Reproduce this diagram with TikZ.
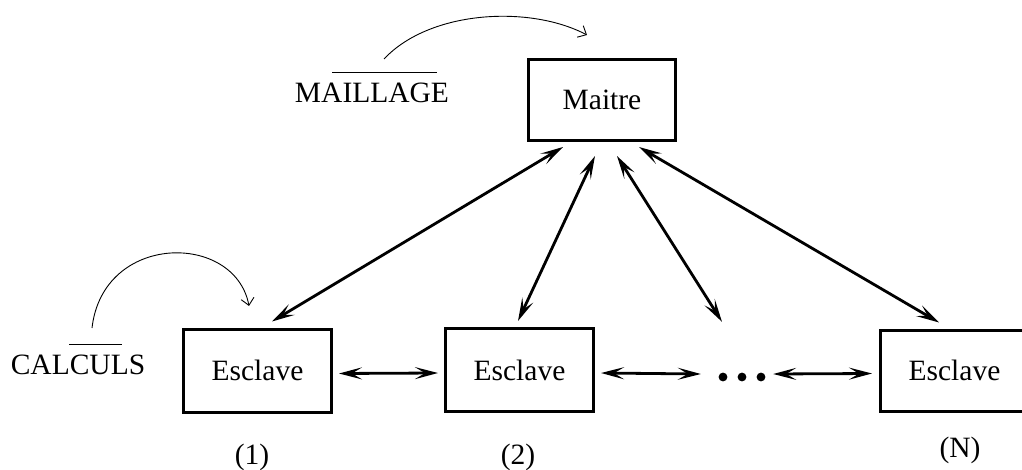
\documentclass[tikz,border=0pt]{standalone}
\usepackage{fontspec}
\setmainfont{Liberation Serif}
\usetikzlibrary{arrows.meta}
\begin{document}
\begin{tikzpicture}[x=1pt,y=-1pt,
  font=\fontsize{29.5}{34}\selectfont,
  boxnode/.style={draw,line width=3pt,minimum width=148pt,minimum height=82pt,inner sep=0pt},
  txt/.style={inner sep=0pt},
  link/.style={line width=2.8pt,{Stealth[length=23pt,width=12pt,inset=10pt]}-{Stealth[length=23pt,width=12pt,inset=10pt]}},
  curvearrow/.style={line width=0.9pt,-{Straight Barb[length=7pt,width=13pt]}}]
\useasboundingbox (0,0) rectangle (1022,470);
% boxes
\node[boxnode,minimum width=147pt,minimum height=81pt] (m) at (602,100) {Maitre};
\node[boxnode,minimum height=83pt] (e1) at (257.5,370.5) {Esclave};
\node[boxnode,minimum height=83pt] (e2) at (519.5,370) {Esclave};
\node[boxnode,minimum height=81pt] (en) at (954.5,370.5) {Esclave};
\node[minimum width=52pt,minimum height=10pt,inner sep=0pt] (dots) at (742,377) {};
\foreach \dx in {-19,0,19} \fill ([xshift=\dx pt]dots.center) circle (4.4pt);
% labels
\node[txt,anchor=base] (lm) at (372,103) {MAILLAGE};
\node[txt,anchor=base] (lc) at (78,374) {CALCULS};
\node[txt] (l1) at (252,457) {(1)};
\node[txt] (l2) at (518,457) {(2)};
\node[txt] (ln) at (960,450) {(N)};
% overlines
\draw[line width=1pt] (332,73) -- (437,73);
\draw[line width=1pt] (69,344) -- (122,344);
% horizontal links
\draw[link] ([xshift=6pt,yshift=-3pt]e1.east) -- ([xshift=-6pt,yshift=-3pt]e2.west);
\draw[link] ([xshift=6pt,yshift=-3pt]e2.east) -- ([xshift=-15pt,yshift=3pt]dots.west);
\draw[link] ([xshift=5pt,yshift=3pt]dots.east) -- ([xshift=-7pt,yshift=-3pt]en.west);
% diagonal links
\draw[link] ([xshift=-39pt,yshift=-5pt]m.south) -- ([xshift=14.5pt,yshift=6pt]e1.north);
\draw[link] ([xshift=-7pt,yshift=-14pt]m.south) -- ([xshift=-1.5pt,yshift=6pt]e2.north);
\draw[link] ([xshift=15pt,yshift=-14pt]m.south) -- ([xshift=-20pt,yshift=50pt]dots.north);
\draw[link] ([xshift=37pt,yshift=-5pt]m.south) -- ([xshift=-15.5pt,yshift=6pt]en.north);
% curved arrows
\coordinate (cms) at (384,59);
\coordinate (cme) at (587,35);
\coordinate (ccs) at (92,328);
\coordinate (cce) at (249,306);
\draw[curvearrow] (cms) .. controls (430,10) and (530,5) .. (cme);
\draw[curvearrow] (ccs) .. controls (103,232) and (235,232) .. (cce);
\end{tikzpicture}
\end{document}
